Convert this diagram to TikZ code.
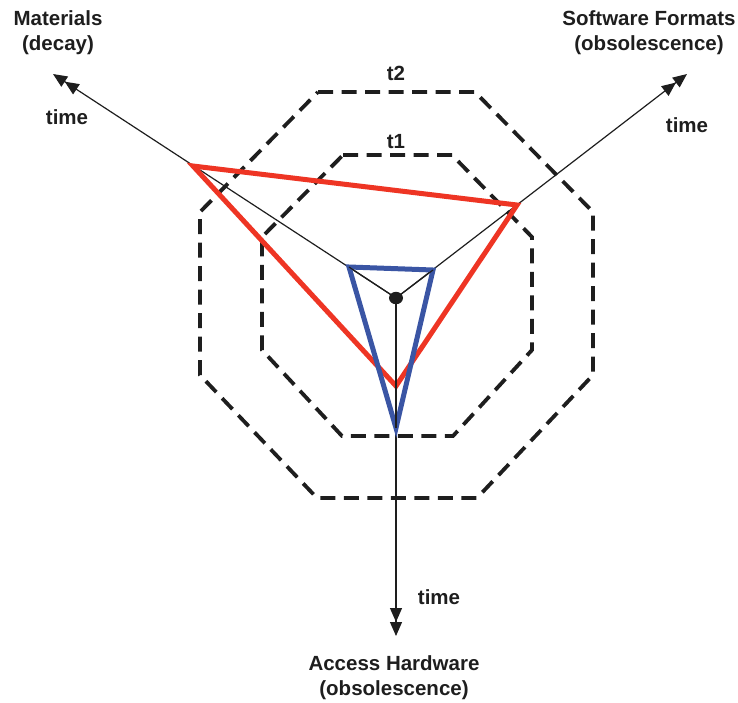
\documentclass[tikz,border=0pt]{standalone}
\usepackage{fontspec}
\setmainfont{Liberation Sans}
\usetikzlibrary{arrows.meta}

\definecolor{accred}{HTML}{EE3524}
\definecolor{accblue}{HTML}{3A55A4}
\definecolor{inkblack}{HTML}{1E1E1E}

\tikzset{
  ring/.style={draw=inkblack, line width=3.8pt, dash pattern=on 15pt off 8.5pt},
  axisline/.style={draw=inkblack, line width=1.2pt,
    -{Triangle[length=14pt,width=12pt] Triangle[length=14pt,width=12pt]}},
  spoke/.style={draw=inkblack, line width=1.2pt},
  label/.style={font=\bfseries\fontsize{20.5}{25}\selectfont, text=inkblack,
    align=center, inner sep=0pt},
  redtri/.style={draw=accred, line width=5pt, line join=miter},
  bluetri/.style={draw=accblue, line width=5pt, line join=miter},
}

\begin{document}
\begin{tikzpicture}[x=1pt, y=-1pt]
  \useasboundingbox (0,0) rectangle (738,702);

  % centre and axis ends
  \coordinate (O) at (396,298);
  \coordinate (endM) at (53,74);
  \coordinate (endS) at (687,74);
  \coordinate (endA) at (396,636);

  % time rings
  \draw[ring] (318,92) -- (475,92) -- (593,212) -- (593,375) -- (477,498)
              -- (317,498) -- (200,375) -- (200,212) -- cycle;
  \draw[ring] (343,155) -- (452,155) -- (532,237) -- (532,350) -- (453,436)
              -- (342,436) -- (262,350) -- (262,237) -- cycle;
  \node[label] (t2) at (396,73) {t2};
  \node[label] (t1) at (396,142) {t1};

  % axes
  \draw[axisline] (O) -- (endM);
  \draw[axisline] (O) -- (endS);
  \draw[axisline] (O) -- (endA);

  % degradation at t2 and t1
  \coordinate (rM) at (193,166);
  \coordinate (rS) at (517,205);
  \coordinate (rA) at (396,386);
  \draw[redtri] (rM) -- (rS) -- (rA) -- cycle;

  \coordinate (bM) at (349,267);
  \coordinate (bS) at (433,270);
  \coordinate (bA) at (396,428);
  \draw[bluetri] (bM) -- (bS) -- (bA) -- cycle;

  % spokes over the blue triangle
  \draw[spoke] (O) -- (bM);
  \draw[spoke] (O) -- (bS);
  \draw[spoke] (O) -- (bA);

  \fill[inkblack] (O) ellipse [x radius=7, y radius=6.2];

  % axis labels
  \node[label] (matl) at (58,33) {Materials\\(decay)};
  \node[label] (soft) at (649,33) {Software Formats\\(obsolescence)};
  \node[label] (hard) at (394,678) {Access Hardware\\(obsolescence)};
  \node[label] (timeM) at (67,117) {time};
  \node[label] (timeS) at (687,125) {time};
  \node[label] (timeA) at (439,597) {time};
\end{tikzpicture}
\end{document}
